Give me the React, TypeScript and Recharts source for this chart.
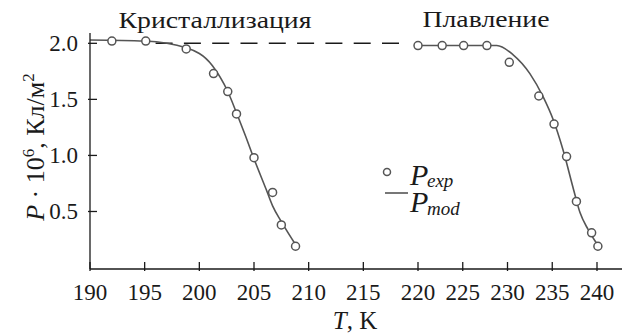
import { LineChart, Line, XAxis, YAxis, Legend } from "recharts";

// crystallization, experiment
const crystExpT = [192.0, 195.1, 198.8, 201.3, 202.6, 203.4, 205.0, 206.7, 207.5, 208.8];
const crystExpP = [2.02, 2.02, 1.95, 1.73, 1.57, 1.37, 0.98, 0.67, 0.38, 0.19];
// crystallization, model
const crystModT = [190, 195, 198.8, 201.2, 202.6, 203.4, 204.2, 205.0, 206.1, 206.7, 207.5, 208.9];
const crystModP = [2.03, 2.02, 1.96, 1.8, 1.57, 1.38, 1.18, 0.97, 0.7, 0.55, 0.41, 0.19];
// melting, experiment
const meltExpT = [220.0, 222.7, 225.1, 227.7, 230.2, 233.5, 235.2, 236.6, 237.7, 239.4, 240.1];
const meltExpP = [1.98, 1.98, 1.98, 1.98, 1.83, 1.53, 1.28, 0.99, 0.59, 0.31, 0.19];
// melting, model
const meltModT = [220, 225, 228.8, 230.6, 232.5, 234.0, 235.1, 236.2, 237.4, 238.1, 239.0, 240.0];
const meltModP = [1.98, 1.98, 1.98, 1.9, 1.73, 1.52, 1.32, 1.05, 0.69, 0.49, 0.34, 0.21];
// dashed level between the two branches
const levelT = [196, 218.5];
const levelP = [2.0, 2.0];

const xTicks = [190, 195, 200, 205, 210, 215, 220, 225, 230, 235, 240];
const yTicks = [0.5, 1.0, 1.5, 2.0];

const toRows = (t: number[], p: number[]) => t.map((T, i) => ({ T, P: p[i] }));

const FONT = "Liberation Serif";
const INK = "#1a1a1a";
const GREY = "#555";

// the original T axis is not uniform: 190..220 is stretched compared to 220..240
function brokenScale(knots: number[], fracs: number[]): any {
  let dom = [knots[0], knots[knots.length - 1]];
  let rng = [0, 1];
  const scale: any = (v: number) => {
    let i = 0;
    while (i < knots.length - 2 && v > knots[i + 1]) i++;
    const f = fracs[i] + ((v - knots[i]) / (knots[i + 1] - knots[i])) * (fracs[i + 1] - fracs[i]);
    return rng[0] + f * (rng[1] - rng[0]);
  };
  scale.domain = (d?: number[]) => {
    if (d === undefined) return dom.slice();
    dom = d.slice();
    return scale;
  };
  scale.range = (r?: number[]) => {
    if (r === undefined) return rng.slice();
    rng = r.slice();
    return scale;
  };
  scale.invert = (px: number) => {
    const f = (px - rng[0]) / (rng[1] - rng[0]);
    let i = 0;
    while (i < fracs.length - 2 && f > fracs[i + 1]) i++;
    return knots[i] + ((f - fracs[i]) / (fracs[i + 1] - fracs[i])) * (knots[i + 1] - knots[i]);
  };
  scale.ticks = () => xTicks;
  scale.tickFormat = () => (v: number) => String(v);
  scale.copy = () => brokenScale(knots, fracs).domain(dom).range(rng);
  return scale;
}

const xScale = brokenScale([190, 220, 240, 243.4], [0, 328 / 537, 507 / 537, 1]);

const XTick = ({ x, y, payload }: any) => (
  <g>
    <line x1={x} y1={y} x2={x} y2={y - 9} stroke={INK} strokeWidth={1.3} />
    <text x={x} y={y + 29} textAnchor="middle" fontFamily={FONT} fontSize={23} fill={INK}>
      {payload.value}
    </text>
  </g>
);

const YTick = ({ x, y, payload }: any) => (
  <g>
    <line x1={x} y1={y} x2={x + 9} y2={y} stroke={INK} strokeWidth={1.3} />
    <text x={x - 10} y={y + 8} textAnchor="end" fontFamily={FONT} fontSize={23} fill={INK}>
      {payload.value.toFixed(1)}
    </text>
  </g>
);

const spanAt = (left: number, top: number, size: number): any => ({
  position: "absolute",
  left,
  top,
  fontSize: size,
  lineHeight: 1,
  fontFamily: FONT,
  fontStyle: "italic",
  color: INK,
  whiteSpace: "nowrap",
});

const renderLegend = () => (
  <div style={{ position: "relative", width: 100, height: 75 }}>
    <svg width={40} height={50} style={{ position: "absolute", left: 0, top: 0 }}>
      <circle cx={12} cy={22} r={3.5} fill="#fff" stroke={GREY} strokeWidth={1.5} />
      <line x1={10} y1={43} x2={33} y2={43} stroke={GREY} strokeWidth={1.6} />
    </svg>
    <span style={spanAt(35, 10, 30)}>P</span>
    <span style={spanAt(52, 21, 19)}>exp</span>
    <span style={spanAt(35, 37, 30)}>P</span>
    <span style={spanAt(52, 49, 19)}>mod</span>
  </div>
);

export default function App() {
  const dot = { r: 4, fill: "#fff", stroke: GREY, strokeWidth: 1.5 };
  return (
    <div style={{ margin: "-8px 0 0 -8px" }}>
      <LineChart width={630} height={335} margin={{ top: 33, right: 3, left: 0, bottom: 0 }}>
        <XAxis
          type="number"
          dataKey="T"
          scale={xScale}
          domain={[190, 243.4]}
          ticks={xTicks}
          interval={0}
          tickSize={0}
          tickLine={false}
          tick={<XTick />}
          height={66}
          allowDataOverflow
          stroke={INK}
          strokeWidth={1.3}
        />
        <YAxis
          type="number"
          dataKey="P"
          domain={[-0.013, 2.092]}
          ticks={yTicks}
          interval={0}
          tickSize={0}
          tickLine={false}
          tick={<YTick />}
          width={90}
          allowDataOverflow
          stroke={INK}
          strokeWidth={1.3}
        />
        <Line
          data={toRows(levelT, levelP)}
          dataKey="P"
          stroke={INK}
          strokeWidth={1.4}
          strokeDasharray="17 11.3"
          dot={false}
          isAnimationActive={false}
          legendType="none"
        />
        <Line
          data={toRows(crystModT, crystModP)}
          dataKey="P"
          type="monotone"
          stroke={GREY}
          strokeWidth={1.6}
          dot={false}
          isAnimationActive={false}
        />
        <Line
          data={toRows(meltModT, meltModP)}
          dataKey="P"
          type="monotone"
          stroke={GREY}
          strokeWidth={1.6}
          dot={false}
          isAnimationActive={false}
        />
        <Line
          data={toRows(crystExpT, crystExpP)}
          dataKey="P"
          stroke="none"
          dot={dot}
          isAnimationActive={false}
        />
        <Line
          data={toRows(meltExpT, meltExpP)}
          dataKey="P"
          stroke="none"
          dot={dot}
          isAnimationActive={false}
        />
        <Legend
          layout="vertical"
          align="center"
          verticalAlign="middle"
          content={renderLegend}
          wrapperStyle={{ left: 375, top: 150, width: 100, height: 75 }}
        />
        <text x={215} y={28} textAnchor="middle" fontFamily={FONT} fontSize={24} fill={INK} textLength={193} lengthAdjust="spacingAndGlyphs">
          Кристаллизация
        </text>
        <text x={486} y={27} textAnchor="middle" fontFamily={FONT} fontSize={24} fill={INK} textLength={127} lengthAdjust="spacingAndGlyphs">
          Плавление
        </text>
        <text x={355} y={329} textAnchor="middle" fontFamily={FONT} fontSize={25} fill={INK}>
          <tspan fontStyle="italic">T</tspan>, K
        </text>
        <text x={44} y={147} textAnchor="middle" fontFamily={FONT} fontSize={26} fill={INK} transform="rotate(-90 44 147)">
          <tspan fontStyle="italic">P</tspan>
          <tspan> · 10</tspan>
          <tspan dy={-10} fontSize={17}>6</tspan>
          <tspan dy={10}>, Кл/м</tspan>
          <tspan dy={-10} fontSize={17}>2</tspan>
        </text>
      </LineChart>
    </div>
  );
}
